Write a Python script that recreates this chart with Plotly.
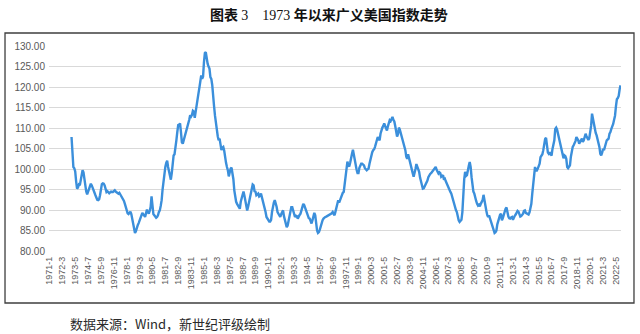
import plotly.graph_objects as go

# Monthly broad US dollar index, Jan 1973 - Oct 2022
v_1973_1979 = [
    107.8, 102.5, 100.5, 100.2, 99.4, 97.0, 95.2, 95.5, 96.2, 96.0, 97.3, 98.5,
    99.7, 99.2, 97.5, 95.8, 94.5, 93.8, 94.5, 95.2, 95.8, 96.4, 96.0, 95.2,
    94.8, 94.2, 93.6, 92.8, 92.5, 92.4, 92.6, 93.6, 95.0, 96.3, 96.5, 96.4,
    96.0, 95.2, 94.4, 94.6, 94.3, 94.1, 94.3, 94.5, 94.4, 94.4, 94.6, 94.8,
    94.5, 94.3, 94.1, 94.0, 94.2, 93.8, 93.6, 93.2, 92.8, 92.2, 91.5, 90.5,
    89.5, 89.2, 89.0, 89.2, 89.6, 89.0, 87.8, 87.0, 86.0, 84.4, 84.8, 85.8,
    86.3, 86.8, 87.5, 88.3, 88.8, 89.3, 89.0, 88.5, 88.3, 89.2, 90.1, 89.5,
]
v_1980s = [
    89.1, 89.8, 90.7, 93.3, 91.0, 89.0, 88.7, 88.3, 88.1, 88.3, 88.7, 89.5,
    89.9, 91.0, 92.4, 95.0, 97.2, 99.5, 100.5, 101.5, 102.0, 100.5, 99.3, 98.0,
    97.4, 99.0, 101.5, 103.3, 103.6, 105.0, 107.0, 109.0, 110.7, 110.8, 111.1, 109.0,
    106.5, 106.2, 107.0, 107.6, 108.5, 109.4, 110.3, 111.1, 112.0, 113.1, 112.8, 113.2,
    114.2, 114.0, 112.5, 114.0, 115.9, 117.0, 118.4, 119.8, 121.5, 122.8, 122.0, 122.5,
    126.0, 128.3, 128.5, 126.5, 125.7, 125.0, 124.5, 122.4, 122.0, 120.5, 116.7, 115.3,
    113.0, 111.1, 109.5, 108.0, 107.0, 107.4, 106.0, 104.6, 105.2, 105.4, 104.5, 102.5,
    101.5, 100.5, 99.7, 98.2, 99.2, 100.1, 100.3, 99.0, 97.5, 94.8, 93.0, 92.0,
    91.5, 91.0, 90.6, 90.3, 92.0, 92.8, 94.0, 94.5, 93.5, 92.4, 91.0, 89.9,
    90.8, 92.0, 93.5, 94.6, 95.6, 96.2, 96.0, 94.6, 94.5, 93.6, 93.8, 94.0,
]
v_1990s = [
    93.3, 93.5, 94.0, 93.2, 92.4, 91.5, 90.7, 89.5, 88.3, 87.8, 87.5, 87.2,
    87.2, 87.6, 89.5, 91.0, 91.8, 92.4, 91.8, 90.8, 89.5, 89.0, 88.7, 88.3,
    89.0, 89.6, 89.9, 88.5, 87.5, 86.7, 85.8, 86.2, 87.5, 89.0, 90.2, 90.7,
    90.7, 89.8, 88.8, 88.3, 88.6, 88.5, 87.9, 88.6, 88.8, 89.1, 90.0, 90.8,
    91.5, 91.2, 90.5, 89.9, 89.2, 88.6, 88.0, 87.9, 87.0, 86.7, 87.5, 88.5,
    89.3, 88.7, 86.5, 85.0, 84.4, 84.6, 85.2, 86.0, 87.0, 87.5, 87.9, 88.2,
    88.3, 88.4, 88.5, 88.6, 88.7, 88.8, 88.9, 89.2, 89.5, 89.1, 88.7, 89.6,
    90.7, 91.5, 92.4, 91.8, 92.5, 93.2, 93.8, 94.2, 94.4, 96.0, 97.8, 100.5,
    101.8, 100.9, 100.6, 101.5, 102.3, 103.7, 104.7, 103.2, 102.0, 100.9, 99.8, 99.0,
    99.0, 100.3, 101.0, 101.3, 101.3, 101.0, 100.9, 100.2, 100.0, 99.7, 99.9, 100.1,
]
v_2000s = [
    101.3, 102.5, 103.2, 104.1, 104.6, 104.8, 105.4, 106.0, 107.0, 107.8, 107.5, 107.0,
    108.6, 109.6, 110.1, 110.5, 111.1, 110.5, 110.0, 109.4, 110.4, 111.1, 111.9, 111.7,
    112.4, 112.7, 112.0, 111.6, 110.5, 108.6, 107.9, 108.5, 110.1, 109.6, 108.8, 107.8,
    107.2, 106.3, 105.5, 104.6, 103.0, 102.5, 103.6, 102.5, 101.5, 100.5, 99.5, 99.0,
    98.1, 98.8, 100.0, 101.2, 100.6, 100.0, 99.3, 97.9, 96.8, 95.6, 95.2, 95.3,
    95.7, 96.4, 96.7, 97.2, 98.0, 98.5, 98.8, 99.0, 99.3, 99.6, 99.9, 100.3,
    100.5, 99.8, 99.3, 98.9, 99.2, 99.0, 98.1, 98.4, 98.5, 97.4, 97.6, 97.0,
    96.4, 96.0, 95.3, 94.8, 94.4, 94.0, 93.2, 92.0, 91.0, 90.3, 90.0, 89.5,
    88.3, 87.5, 87.1, 87.3, 87.6, 89.5, 94.0, 97.5, 99.3, 98.3, 98.5, 100.3,
    100.8, 101.7, 100.5, 98.0, 95.6, 94.5, 94.0, 92.8, 92.2, 91.5, 91.1, 91.3,
]
v_2010s = [
    90.9, 91.5, 91.8, 92.4, 93.7, 92.0, 90.9, 89.9, 88.8, 88.3, 88.7, 87.9,
    87.3, 86.5, 85.9, 84.8, 84.4, 84.6, 85.0, 86.5, 87.4, 88.3, 88.8, 89.1,
    87.5, 88.0, 88.8, 89.9, 90.3, 90.6, 89.1, 88.4, 88.0, 87.9, 88.2, 88.3,
    87.6, 88.3, 88.6, 88.9, 89.2, 89.8, 89.6, 89.0, 88.4, 88.5, 88.7, 89.1,
    89.8, 89.9, 89.3, 89.2, 89.1, 88.9, 89.4, 90.3, 91.5, 94.0, 96.0, 98.0,
    100.5, 99.6, 99.6, 100.1, 100.9, 101.3, 102.9, 103.2, 103.6, 104.6, 106.5, 107.3,
    107.6, 105.4, 104.0, 103.7, 104.1, 103.6, 103.3, 104.9, 105.8, 107.0, 109.8, 110.1,
    109.6, 108.5, 107.6, 106.8, 106.0, 104.2, 103.0, 102.6, 103.3, 103.1, 102.5, 100.5,
    100.2, 100.5, 100.9, 103.0, 104.6, 105.4, 105.8, 106.3, 106.8, 107.8, 107.4, 107.0,
    106.2, 106.5, 106.8, 107.4, 106.6, 107.0, 107.8, 108.6, 108.0, 107.4, 107.1, 107.5,
]
v_2020s = [
    108.8, 110.5, 113.5, 112.3, 110.5, 109.4, 108.8, 108.2, 107.4, 106.5, 105.4, 103.7,
    103.3, 104.0, 104.9, 104.6, 105.5, 106.2, 107.0, 107.2, 107.4, 108.6, 109.0, 109.8,
    110.3, 111.0, 112.0, 113.0, 115.3, 117.0, 117.3, 117.8, 119.4, 120.4,
]

# Category axis: every month from 1971-1 to 2022-10, labelled every 14 months
months = [f"{1971 + i // 12}-{i % 12 + 1}" for i in range(622)]
tick_labels = months[::14]
index_values = [None] * 24 + v_1973_1979 + v_1980s + v_1990s + v_2000s + v_2010s + v_2020s

TEXT_GREY = "#595959"

fig = go.Figure(
    go.Scatter(
        x=months,
        y=index_values,
        mode="lines",
        line=dict(color="#3B8FDB", width=2.4),
        connectgaps=False,
        hoverinfo="x+y",
    )
)

fig.update_layout(
    width=640,
    height=334,
    margin=dict(l=49, r=19, t=46, b=83, pad=0),
    paper_bgcolor="white",
    plot_bgcolor="white",
    showlegend=False,
    xaxis=dict(
        type="category",
        range=[-0.5, 621.5],
        tickmode="array",
        tickvals=tick_labels,
        ticktext=tick_labels,
        tickangle=-90,
        tickfont=dict(family="Liberation Sans", size=9, color=TEXT_GREY),
        ticklabelstandoff=3,
        showgrid=False,
        showline=False,
        zeroline=False,
        ticks="",
    ),
    yaxis=dict(
        range=[80, 130],
        tick0=80,
        dtick=5,
        tickformat=".2f",
        tickfont=dict(family="Liberation Sans", size=10, color=TEXT_GREY),
        ticklabelstandoff=3,
        gridcolor="#d9d9d9",
        gridwidth=1,
        showline=False,
        zeroline=False,
        ticks="",
    ),
)

# Outer frame around the chart body
fig.add_shape(
    type="rect", xref="paper", yref="paper",
    x0=-0.0769, x1=1.0227, y0=-0.2537, y1=1.0634,
    line=dict(color="#3f3f3f", width=1.3), fillcolor="rgba(0,0,0,0)",
)

title_text = (
    '<span style="font-family:Noto Sans CJK SC;font-weight:bold">图表</span>&#160;'
    '<span style="font-family:Liberation Serif">3&#160;&#160;&#160;&#160;1973&#160;</span>'
    '<span style="font-family:Noto Sans CJK SC;font-weight:bold">年以来广义美国指数走势</span>'
)
fig.add_annotation(
    text=title_text, xref="paper", yref="paper",
    x=0.49, y=1.156, xanchor="center", yanchor="middle",
    showarrow=False, font=dict(size=14, color="#111111", family="Noto Sans CJK SC"),
)

fig.add_annotation(
    text="数据来源：Wind，新世纪评级绘制", xref="paper", yref="paper",
    x=(68 - 49) / 572, y=(251 - 323) / 205, xanchor="left", yanchor="middle",
    showarrow=False, font=dict(size=13, color="#2a2a2a", family="Noto Sans CJK SC"),
)

fig.write_html("out.html")
